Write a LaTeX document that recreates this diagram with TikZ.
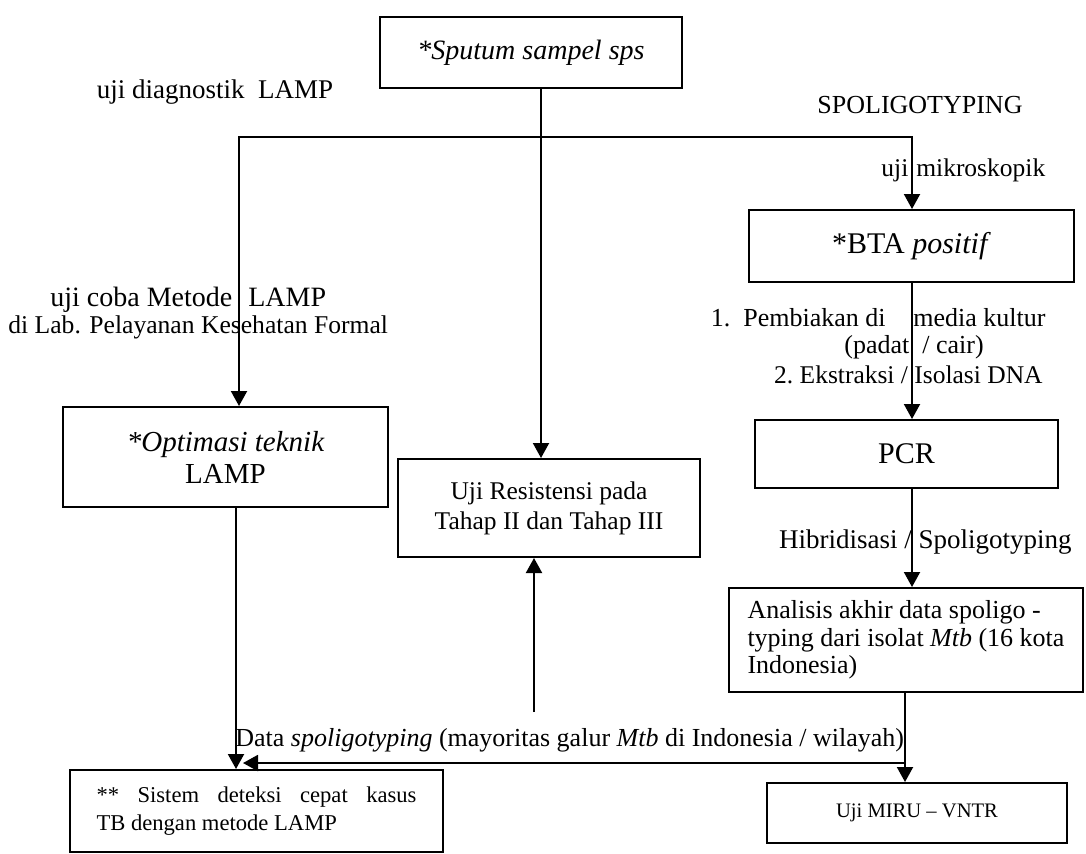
\documentclass[tikz,border=0pt]{standalone}
\usepackage{fontspec}
\setmainfont{Liberation Serif}
\usetikzlibrary{arrows.meta}
\begin{document}
\begin{tikzpicture}[x=0.5pt,y=-0.5pt,
  box/.style={draw, line width=1pt, inner sep=0pt, align=center},
  arr/.style={line width=1pt, -{Triangle[length=7.5pt,width=8pt]}},
  ln/.style={line width=1pt},
  lbl/.style={inner sep=0pt, font=\fontsize{13}{15}\selectfont}]
\useasboundingbox (0,0) rectangle (1086,853);

% boxes
\node[box, minimum width=151pt, minimum height=35.5pt, font=\fontsize{14}{16}\selectfont\itshape] (sputum) at (531,52.5) {*Sputum sampel sps};
\node[box, minimum width=162.5pt, minimum height=36pt, font=\fontsize{15}{17}\selectfont] (bta) at (911.5,246) {*BTA \textit{positif}};
\node[box, minimum width=151.5pt, minimum height=34pt, font=\fontsize{15}{17}\selectfont] (pcr) at (906.5,454) {PCR};
\node[box, minimum width=177pt, minimum height=52pt, align=left, font=\fontsize{13}{13.75}\selectfont] (anal) at (906,640) {Analisis akhir data spoligo -\\typing dari isolat \textit{Mtb} (16 kota\\Indonesia)};
\node[box, minimum width=150pt, minimum height=30pt, font=\fontsize{10.3}{12}\selectfont] (miru) at (917,813) {Uji MIRU -- VNTR};
\node[box, minimum width=162.5pt, minimum height=50pt, font=\fontsize{14.5}{16}\selectfont] (opt) at (225.5,457) {{\itshape *Optimasi teknik}\\LAMP};
\node[box, minimum width=151pt, minimum height=49pt, font=\fontsize{12.75}{15}\selectfont] (res) at (549,508) {Uji Resistensi pada\\Tahap II dan Tahap III};
\node[box, minimum width=186.5pt, minimum height=41pt, align=left, font=\fontsize{11.3}{14}\selectfont] (sistem) at (256.5,811) {\makebox[160pt][s]{** Sistem deteksi cepat kasus}\\TB dengan metode LAMP};

% labels
\node[lbl, font=\fontsize{13.5}{15}\selectfont] (l1) at (215,92) {uji diagnostik\ \ LAMP};
\node[lbl] (l2) at (920,105) {SPOLIGOTYPING};
\node[lbl, anchor=west, font=\fontsize{12.75}{15}\selectfont] (l3) at (881,170) {uji\hspace{4pt}mikroskopik};
\node[lbl, anchor=west, font=\fontsize{14}{16}\selectfont] (l4) at (50,300) {uji coba Metode\hspace{8pt}LAMP};
\node[lbl, anchor=west, font=\fontsize{12.8}{15}\selectfont] (l5) at (8,327) {di Lab. Pelayanan Kesehatan Formal};
\node[lbl, anchor=east] (l6a) at (886,318) {1.\ \ Pembiakan di};
\node[lbl, anchor=west] (l6b) at (913,318) {media kultur};
\node[lbl, anchor=west] (l7) at (844,347) {(padat\ \ / cair)};
\node[lbl, anchor=east, font=\fontsize{12.75}{15}\selectfont] (l8) at (1043,375) {2.\ Ekstraksi / Isolasi DNA};
\node[lbl, anchor=east, font=\fontsize{13.5}{15}\selectfont] (l9) at (1072,542) {Hibridisasi / Spoligotyping};
\node[lbl, anchor=west] (l10) at (235,740) {Data \textit{spoligotyping} (mayoritas galur \textit{Mtb} di Indonesia / wilayah)};

% connectors
\coordinate (j) at (541,137);
\coordinate (jl) at (239,137);
\coordinate (jr) at (912,137);
\coordinate (jm) at (905,0);
\coordinate (lx) at (236,0);
\coordinate (dr) at (905,763);
\coordinate (dl) at (243,763);
\coordinate (ub) at (534,712);

\draw[ln] (sputum.south -| j) -- (j);
\draw[arr] (j) -- (jl) -- (jl |- opt.north);
\draw[arr] (j) -- (jr) -- (jr |- bta.north);
\draw[arr] (j) -- (j |- res.north);
\draw[arr] (bta.south -| jr) -- (pcr.north -| jr);
\draw[arr] (pcr.south -| jr) -- (anal.north -| jr);
\draw[arr] (anal.south -| jm) -- (miru.north -| jm);
\draw[arr] (dr) -- (dl);
\draw[arr] (opt.south -| lx) -- (sistem.north -| lx);
\draw[arr] (ub) -- (ub |- res.south);
\end{tikzpicture}
\end{document}
